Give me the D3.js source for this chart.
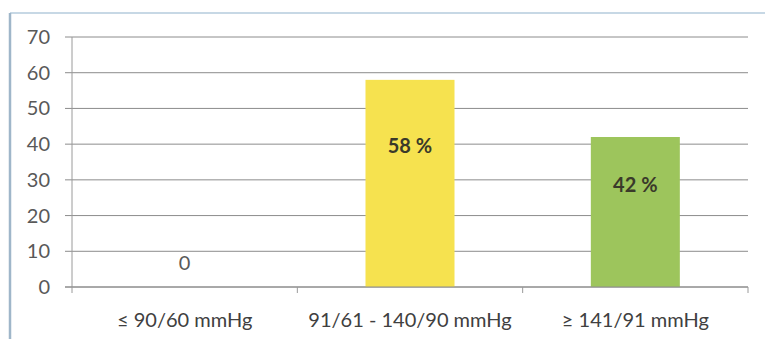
<!DOCTYPE html>
<html>
<head>
<meta charset="utf-8">
<script src="https://cdn.jsdelivr.net/npm/d3@7"></script>
<style>
  html, body { margin: 0; padding: 0; background: #fff; }
  svg { display: block; }
</style>
</head>
<body>
<svg id="chart" width="765" height="339"></svg>
<script>
// Blood pressure groups and share of patients (%)
const categories = ["≤ 90/60 mmHg", "91/61 - 140/90 mmHg", "≥ 141/91 mmHg"];
const values = [0, 58, 42];
const valueLabels = ["0", "58 %", "42 %"];
const barColors = ["#f6e24f", "#f6e24f", "#9dc55c"];
const yTicks = [0, 10, 20, 30, 40, 50, 60, 70];

const W = 765, H = 339;
const margin = { left: 72, right: 17, top: 37, bottom: 52 };
const svg = d3.select("#chart");
const font = "Lato, 'Open Sans', sans-serif";
const fs = 20;

// outer frame (top and left edges visible)
svg.append("line").attr("x1", 10).attr("x2", W).attr("y1", 13).attr("y2", 13)
  .attr("stroke", "#b4cbdc").attr("stroke-width", 1.5);
svg.append("line").attr("x1", 10).attr("x2", 10).attr("y1", 13).attr("y2", H)
  .attr("stroke", "#9fb6c9").attr("stroke-width", 2.5);

const x = d3.scaleBand().domain(categories)
  .range([margin.left, W - margin.right]).paddingInner(0).paddingOuter(0);
const y = d3.scaleLinear().domain([0, 70]).range([H - margin.bottom, margin.top]);

// horizontal gridlines with small left ticks
svg.append("g").selectAll("line").data(yTicks).join("line")
  .attr("x1", margin.left - 7).attr("x2", W - margin.right)
  .attr("y1", d => y(d)).attr("y2", d => y(d))
  .attr("stroke", "#8c8c8c").attr("stroke-width", 1);

// y axis line
svg.append("line").attr("x1", margin.left).attr("x2", margin.left)
  .attr("y1", margin.top).attr("y2", y(0))
  .attr("stroke", "#9a9a9a");

// y tick labels
svg.append("g").selectAll("text").data(yTicks).join("text")
  .attr("x", 50).attr("y", d => y(d)).attr("dy", "0.35em")
  .attr("text-anchor", "end")
  .attr("font-family", font).attr("font-size", fs).attr("fill", "#595959")
  .text(d => d);

// bars
const barW = 89;
svg.append("g").selectAll("rect").data(values).join("rect")
  .attr("x", (d, i) => x(categories[i]) + x.bandwidth() / 2 - barW / 2)
  .attr("y", d => y(d))
  .attr("width", barW)
  .attr("height", d => y(0) - y(d))
  .attr("fill", (d, i) => barColors[i]);

// baseline and category ticks
svg.append("line").attr("x1", margin.left - 7).attr("x2", W - margin.right)
  .attr("y1", y(0)).attr("y2", y(0)).attr("stroke", "#8c8c8c");
const bounds = [margin.left, ...categories.map(c => x(c) + x.bandwidth())];
svg.append("g").selectAll("line").data(bounds).join("line")
  .attr("x1", d => d).attr("x2", d => d)
  .attr("y1", y(0)).attr("y2", y(0) + 6)
  .attr("stroke", "#9a9a9a");

// category labels
svg.append("g").selectAll("text").data(categories).join("text")
  .attr("x", d => x(d) + x.bandwidth() / 2).attr("y", 320)
  .attr("dy", "0.35em").attr("text-anchor", "middle")
  .attr("font-family", font).attr("font-size", fs).attr("fill", "#404040")
  .text(d => d);

// value labels
svg.append("g").selectAll("text").data(values).join("text")
  .attr("x", (d, i) => x(categories[i]) + x.bandwidth() / 2)
  .attr("y", d => d === 0 ? y(0) - 24 : y(d * 0.68))
  .attr("dy", "0.35em").attr("text-anchor", "middle")
  .attr("font-family", font).attr("font-size", fs)
  .attr("font-weight", d => d === 0 ? "normal" : "bold")
  .attr("fill", d => d === 0 ? "#595959" : "#3a3a2a")
  .text((d, i) => valueLabels[i]);
</script>
</body>
</html>
